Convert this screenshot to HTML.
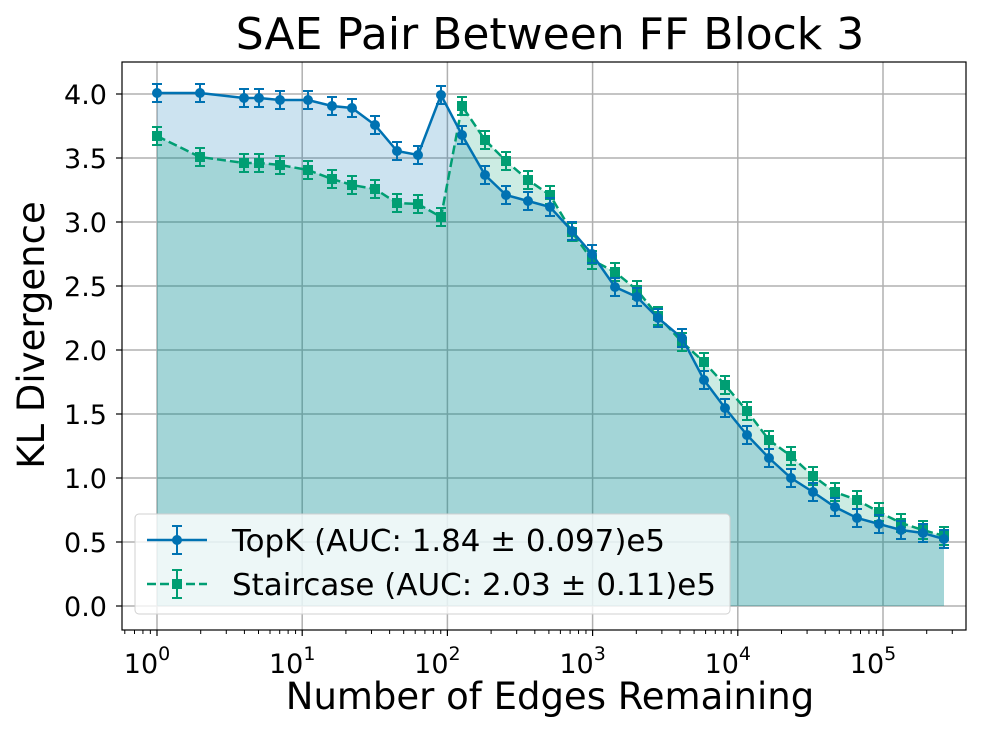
<!DOCTYPE html>
<html><head><meta charset="utf-8"><style>body{margin:0;background:#fff}svg{display:block}text{font-family:"DejaVu Sans","Liberation Sans",sans-serif;fill:#000}</style></head><body>
<svg id="s" width="996" height="729" xmlns="http://www.w3.org/2000/svg"></svg>
<script>
const B=[[157,93],[200,93],[244,98],[259,98],[280,100],[308,100],[332,106],[352,108],[375,125],[397,151],[418,155],[441,95],[462,135],[485,175],[506,195],[528,201],[550,207],[572,231],[592,254],[615,287],[637,297],[658,318],[682,338],[704,380],[725,408],[747,435],[769,458],[791,478],[813,492],[835,507],[857,518],[879,524],[901,530],[923,533],[944,539]];
const G=[[157,136],[200,157],[244,163],[259,163],[280,165],[308,170],[332,179],[352,185],[375,189],[397,203],[418,204],[441,217],[462,106],[485,140],[506,161],[528,180],[550,195],[572,232],[592,260],[615,272],[637,290],[658,316],[682,342],[704,362],[725,385],[747,411],[769,440],[791,456],[813,476],[835,492],[857,500],[879,512],[901,523],[923,530],[944,536]];
let h='';
const L=122,R=966,T=62,Bt=630,y0=606,dy=128;
for(let i=0;i<=8;i++){let y=y0-i*0.5*dy;h+=`<line x1="${L}" x2="${R}" y1="${y}" y2="${y}" stroke="#b0b0b0" stroke-width="1.5"/>`;h+=`<line x1="${L-6}" x2="${L}" y1="${y}" y2="${y}" stroke="#000" stroke-width="1.2"/><text x="${L-15}" y="${y+10}" font-size="27" text-anchor="end">${(i*0.5).toFixed(1)}</text>`;}
const dx=145.2,x0=157;
for(let d=0;d<=5;d++){let x=x0+d*dx;h+=`<line x1="${x}" x2="${x}" y1="${T}" y2="${Bt}" stroke="#b0b0b0" stroke-width="1.5"/><line x1="${x}" x2="${x}" y1="${Bt}" y2="${Bt+6}" stroke="#000" stroke-width="1.2"/><text x="${x-10}" y="${Bt+43}" font-size="27" text-anchor="middle">10<tspan font-size="19" dy="-13">${d}</tspan></text>`;}
for(let d=-1;d<=5;d++)for(let k=2;k<10;k++){let x=x0+(d+Math.log10(k))*dx;if(x>L&&x<R)h+=`<line x1="${x}" x2="${x}" y1="${Bt}" y2="${Bt+4}" stroke="#000" stroke-width="1"/>`;}
const poly=(P,c)=>`<polygon points="${P.map(p=>p.join(',')).join(' ')} ${P[P.length-1][0]},${y0} ${P[0][0]},${y0}" fill="${c}" fill-opacity="0.2"/>`;
h+=poly(B,'#0072B2')+poly(G,'#009E73');
const ser=(P,c,dash,sq)=>{let s=`<polyline points="${P.map(p=>p.join(',')).join(' ')}" fill="none" stroke="${c}" stroke-width="2.5" ${dash?'stroke-dasharray="9,4"':''}/>`;
for(const[x,y]of P){s+=`<path d="M${x},${y-9}V${y+9}M${x-5},${y-9}H${x+5}M${x-5},${y+9}H${x+5}" stroke="${c}" stroke-width="2"/>`;s+=sq?`<rect x="${x-5}" y="${y-5}" width="10" height="10" fill="${c}"/>`:`<circle cx="${x}" cy="${y}" r="5" fill="${c}"/>`;}return s;};
h+=ser(G,'#009E73',1,1)+ser(B,'#0072B2',0,0);
h+=`<rect x="${L}" y="${T}" width="${R-L}" height="${Bt-T}" fill="none" stroke="#000" stroke-width="1.2"/>`;
h+=`<rect x="135" y="514" width="595" height="100" rx="4" fill="#fff" fill-opacity="0.8" stroke="#d0d0d0"/>`;
h+=`<line x1="147" x2="207" y1="540" y2="540" stroke="#0072B2" stroke-width="2.5"/><path d="M177,526V554M172,526H182M172,554H182" stroke="#0072B2" stroke-width="2"/><circle cx="177" cy="540" r="5" fill="#0072B2"/>`;
h+=`<line x1="147" x2="207" y1="584" y2="584" stroke="#009E73" stroke-width="2.5" stroke-dasharray="9,4"/><path d="M177,570V598M172,570H182M172,598H182" stroke="#009E73" stroke-width="2"/><rect x="172" y="579" width="10" height="10" fill="#009E73"/>`;
h+=`<text x="232" y="551" font-size="30" textLength="433" lengthAdjust="spacingAndGlyphs">TopK (AUC: 1.84 ± 0.097)e5</text><text x="232" y="595" font-size="30" textLength="484" lengthAdjust="spacingAndGlyphs">Staircase (AUC: 2.03 ± 0.11)e5</text>`;
h+=`<text x="550" y="49" font-size="44" text-anchor="middle">SAE Pair Between FF Block 3</text>`;
h+=`<text x="550" y="709" font-size="37" text-anchor="middle">Number of Edges Remaining</text>`;
h+=`<text transform="translate(44,335) rotate(-90)" font-size="37" text-anchor="middle">KL Divergence</text>`;
document.getElementById('s').innerHTML=h;
</script>
</body></html>
